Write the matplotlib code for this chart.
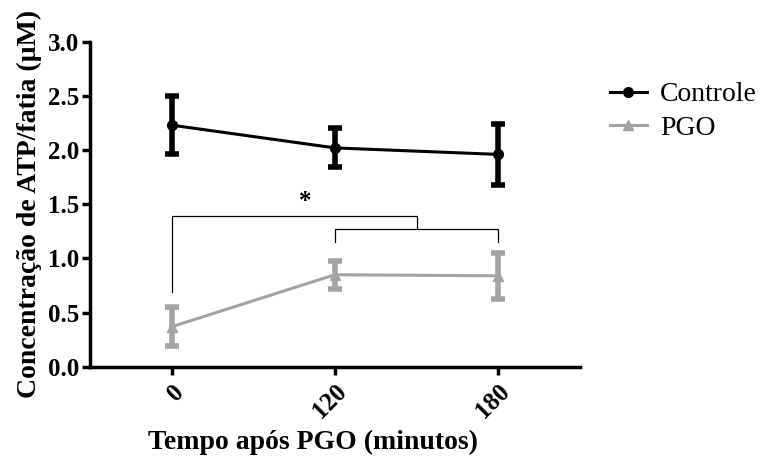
import matplotlib
matplotlib.use("Agg")
from matplotlib import pyplot as plt

# data
tempos = ["0", "120", "180"]
controle = [2.23, 2.02, 1.96]
controle_err = [0.27, 0.18, 0.28]
pgo = [0.37, 0.85, 0.84]
pgo_err = [0.18, 0.13, 0.21]

plt.rcParams['font.family'] = ['Liberation Serif', 'DejaVu Serif']

fig = plt.figure(figsize=(7.69, 4.58), dpi=100)
ax = fig.add_axes([0.117, 0.199, 0.637, 0.710])

x = list(range(len(tempos)))
gray = '#a3a3a3'

eb1 = ax.errorbar(x, controle, yerr=controle_err, color='black', lw=2.2,
                  marker='o', ms=7, elinewidth=4, capsize=5, capthick=4,
                  zorder=3)
eb2 = ax.errorbar(x, pgo, yerr=pgo_err, color=gray, lw=2.2,
                  marker='^', ms=7, elinewidth=4, capsize=5, capthick=4,
                  zorder=3)

# significance brackets
ax.plot([0, 0, 1.5, 1.5], [0.69, 1.39, 1.39, 1.27], color='black', lw=0.9)
ax.plot([1, 1, 2, 2], [1.15, 1.27, 1.27, 1.15], color='black', lw=0.9)
ax.text(0.82, 1.42, '*', ha='center', va='bottom', fontsize=18, fontweight='bold')

ax.set_xlim(-0.5, 2.5)
ax.set_ylim(0, 3.0)
ax.set_yticks([0, 0.5, 1.0, 1.5, 2.0, 2.5, 3.0])
ax.set_yticklabels(['0.0', '0.5', '1.0', '1.5', '2.0', '2.5', '3.0'])
ax.set_xticks(x)
ax.set_xticklabels(tempos, rotation=45, ha='right', rotation_mode='anchor')

for lab in ax.get_xticklabels() + ax.get_yticklabels():
    lab.set_fontweight('bold')
    lab.set_fontsize(18)

ax.spines['top'].set_visible(False)
ax.spines['right'].set_visible(False)
ax.spines['left'].set_linewidth(2.5)
ax.spines['bottom'].set_linewidth(2.5)
ax.tick_params(width=2.5, length=6)
ax.tick_params(axis='y', pad=2)

ax.set_xlabel('Tempo após PGO (minutos)', fontsize=20, fontweight='bold')
ax.xaxis.set_label_coords(0.455, -0.195)
ax.set_ylabel('Concentração de ATP/fatia (µM)', fontsize=20, fontweight='bold', labelpad=4)

ax.legend([eb1[0], eb2[0]], ['Controle', 'PGO'], loc='upper left',
          bbox_to_anchor=(1.01, 0.953), frameon=False, fontsize=20,
          handlelength=1.35, handletextpad=0.45, labelspacing=0.3)

fig.savefig('out.png', dpi=100)
